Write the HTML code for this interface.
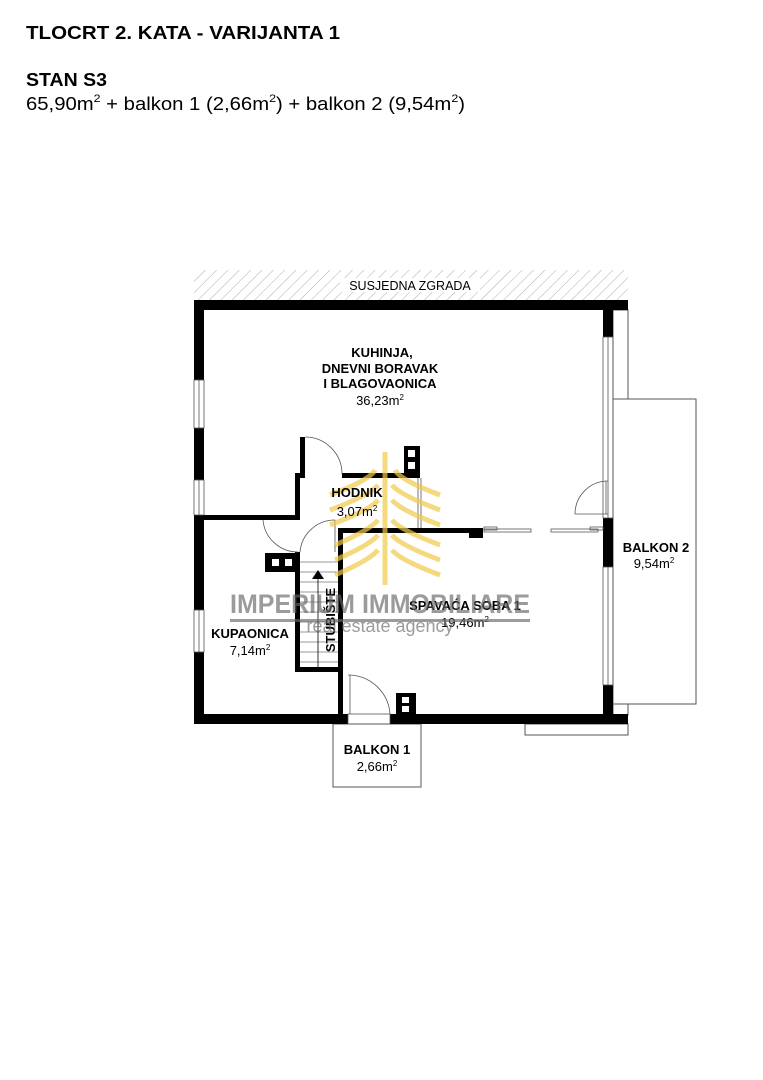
<!DOCTYPE html>
<html><head><meta charset="utf-8"><style>
html,body{margin:0;padding:0;background:#fff;width:763px;height:1080px;overflow:hidden}
svg{display:block}
text{font-family:"Liberation Sans",Arial,sans-serif}
</style></head><body>
<svg width="763" height="1080" viewBox="0 0 763 1080" xmlns="http://www.w3.org/2000/svg">
<defs>
<pattern id="h" width="8" height="8" patternUnits="userSpaceOnUse" patternTransform="rotate(45)">
<line x1="0" y1="0" x2="0" y2="8" stroke="#999" stroke-width="0.8"/></pattern>
</defs>
<text x="26" y="39" font-size="18" font-weight="bold" textLength="314" lengthAdjust="spacingAndGlyphs">TLOCRT 2. KATA - VARIJANTA 1</text>
<text x="26" y="86" font-size="18" font-weight="bold" textLength="81" lengthAdjust="spacingAndGlyphs">STAN S3</text>
<text x="26" y="110" font-size="18" textLength="439" lengthAdjust="spacingAndGlyphs">65,90m<tspan font-size="11" dy="-8">2</tspan><tspan dy="8"> + balkon 1 (2,66m</tspan><tspan font-size="11" dy="-8">2</tspan><tspan dy="8">) + balkon 2 (9,54m</tspan><tspan font-size="11" dy="-8">2</tspan><tspan dy="8">)</tspan></text>

<rect x="194" y="270" width="434" height="30" fill="url(#h)"/>
<rect x="340" y="278" width="140" height="14" fill="#fff"/>
<text x="410" y="290" font-size="12.5" text-anchor="middle">SUSJEDNA ZGRADA</text>

<rect x="613" y="310" width="15" height="405" fill="none" stroke="#555" stroke-width="1"/>
<rect x="613" y="399" width="83" height="305" fill="#fff" stroke="#555" stroke-width="1"/>
<rect x="525" y="724" width="103" height="11" fill="none" stroke="#555" stroke-width="1"/>
<rect x="333" y="724" width="88" height="63" fill="none" stroke="#555" stroke-width="1"/>

<g fill="#000">
<rect x="194" y="300" width="434" height="10"/>
<rect x="194" y="714" width="154" height="10"/>
<rect x="390" y="714" width="238" height="10"/>
<rect x="194" y="300" width="10" height="80"/>
<rect x="194" y="428" width="10" height="52"/>
<rect x="194" y="515" width="10" height="95"/>
<rect x="194" y="652" width="10" height="72"/>
<rect x="603" y="300" width="10" height="37"/>
<rect x="603" y="518" width="10" height="49"/>
<rect x="603" y="685" width="10" height="39"/>
<rect x="194" y="515" width="104" height="5"/>
<rect x="295" y="473" width="5" height="47"/>
<rect x="295" y="473" width="10" height="5"/>
<rect x="342" y="473" width="78" height="5"/>
<rect x="300" y="437" width="5" height="36"/>
<rect x="404" y="446" width="16" height="32"/>
<rect x="338" y="528" width="145" height="5"/>
<rect x="469" y="528" width="14" height="10"/>
<rect x="338" y="528" width="5" height="187"/>
<rect x="295" y="552" width="5" height="120"/>
<rect x="295" y="667" width="48" height="5"/>
<rect x="265" y="553" width="33" height="19"/>
<rect x="396" y="693" width="20" height="22"/>
</g>
<g fill="#fff">
<rect x="408" y="450" width="7" height="7"/><rect x="408" y="462" width="7" height="7"/>
<rect x="272" y="559" width="7" height="7"/><rect x="285" y="559" width="7" height="7"/>
<rect x="402" y="697" width="7" height="6"/><rect x="402" y="706" width="7" height="6"/>
</g>
<g fill="none" stroke="#555" stroke-width="0.8">
<rect x="194" y="380" width="10" height="48"/><line x1="199" y1="380" x2="199" y2="428"/>
<rect x="194" y="480" width="10" height="35"/><line x1="199" y1="480" x2="199" y2="515"/>
<rect x="194" y="610" width="10" height="42"/><line x1="199" y1="610" x2="199" y2="652"/>
<rect x="603" y="337" width="10" height="181"/><line x1="608" y1="337" x2="608" y2="518"/>
<rect x="603" y="567" width="10" height="118"/><line x1="608" y1="567" x2="608" y2="685"/>
<rect x="348" y="714" width="42" height="10"/>
<line x1="418" y1="478" x2="418" y2="528"/><line x1="421" y1="478" x2="421" y2="528"/>
<rect x="484" y="529" width="47" height="3"/>
<rect x="551" y="529" width="47" height="3"/>
<rect x="590" y="527" width="13" height="3"/>
<rect x="484" y="527" width="13" height="3"/>
<path d="M305 437 A37 37 0 0 1 342 474"/>
<path d="M608 481 A33 33 0 0 0 575 514 L608 514"/>
<line x1="606" y1="481" x2="606" y2="514"/>
<path d="M263 520 A35 35 0 0 0 298 552"/>
<path d="M335 520 A35 35 0 0 0 300 552"/>
<line x1="335" y1="520" x2="335" y2="552"/>
<path d="M348 675 A42 42 0 0 1 390 714"/>
<line x1="350" y1="675" x2="350" y2="714"/>
<g stroke="#777">
<line x1="300" y1="562" x2="338" y2="562"/><line x1="300" y1="572" x2="338" y2="572"/>
<line x1="300" y1="582" x2="338" y2="582"/><line x1="300" y1="592" x2="338" y2="592"/>
<line x1="300" y1="602" x2="338" y2="602"/><line x1="300" y1="612" x2="338" y2="612"/>
<line x1="300" y1="622" x2="338" y2="622"/><line x1="300" y1="632" x2="338" y2="632"/>
<line x1="300" y1="642" x2="338" y2="642"/><line x1="300" y1="652" x2="338" y2="652"/>
<line x1="300" y1="662" x2="338" y2="662"/>
</g>
<line x1="318" y1="578" x2="318" y2="667" stroke="#000"/>
</g>
<polygon points="318,570 312,579 324,579" fill="#000"/>

<g fill="none" stroke="#f1c94a" stroke-width="5" opacity="0.7">
<path d="M385 452 L385 585"/>
<path d="M330 495 Q370 480 375 470"/><path d="M440 495 Q400 480 395 470"/>
<path d="M330 510 Q370 495 378 485"/><path d="M440 510 Q400 495 392 485"/>
<path d="M330 525 Q370 510 378 500"/><path d="M440 525 Q400 510 392 500"/>
<path d="M335 545 Q370 530 378 520"/><path d="M440 545 Q400 530 392 520"/>
<path d="M335 560 Q370 545 378 535"/><path d="M440 560 Q400 545 392 535"/>
<path d="M335 575 Q370 560 378 550"/><path d="M440 575 Q400 560 392 550"/>
</g>

<g font-size="13" text-anchor="middle">
<text x="382" y="357" font-weight="bold">KUHINJA,</text>
<text x="380" y="373" font-weight="bold">DNEVNI BORAVAK</text>
<text x="380" y="388" font-weight="bold">I BLAGOVAONICA</text>
<text x="380" y="405">36,23m<tspan font-size="8" dy="-5">2</tspan></text>
<text x="357" y="497" font-weight="bold">HODNIK</text>
<text x="357" y="516">3,07m<tspan font-size="8" dy="-5">2</tspan></text>
<text x="465" y="610" font-weight="bold">SPAVAĆA SOBA 1</text>
<text x="465" y="627">19,46m<tspan font-size="8" dy="-5">2</tspan></text>
<text x="250" y="638" font-weight="bold">KUPAONICA</text>
<text x="250" y="655">7,14m<tspan font-size="8" dy="-5">2</tspan></text>
<text x="377" y="754" font-weight="bold">BALKON 1</text>
<text x="377" y="771">2,66m<tspan font-size="8" dy="-5">2</tspan></text>
<text x="656" y="552" font-weight="bold">BALKON 2</text>
<text x="654" y="568">9,54m<tspan font-size="8" dy="-5">2</tspan></text>
<text x="0" y="0" font-weight="bold" transform="translate(335,620) rotate(-90)">STUBIŠTE</text>
</g>
<g opacity="0.65" fill="#666">
<text x="380" y="613" font-size="27" font-weight="bold" text-anchor="middle" textLength="300" lengthAdjust="spacingAndGlyphs">IMPERIUM IMMOBILIARE</text>
<rect x="230" y="619" width="300" height="3"/>
<text x="380" y="632" font-size="18" text-anchor="middle">real estate agency</text>
</g>
</svg>
</body></html>
